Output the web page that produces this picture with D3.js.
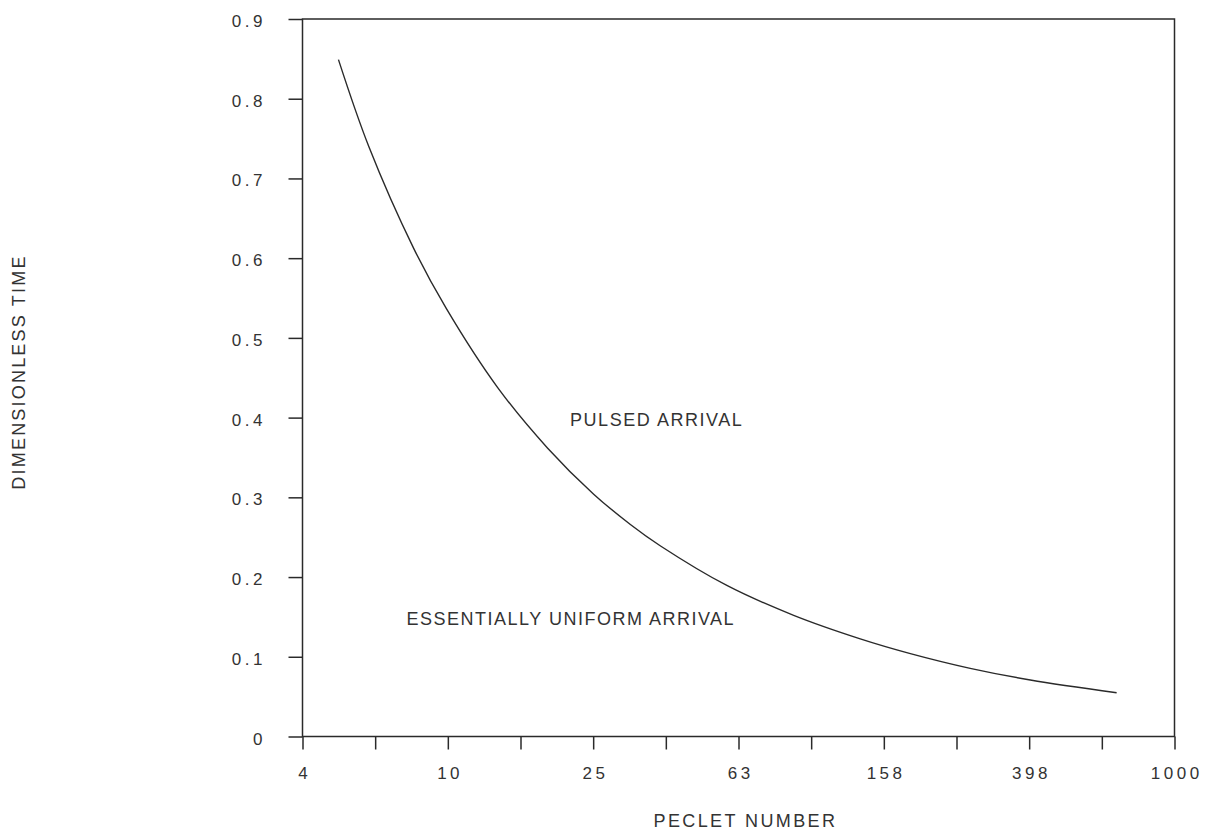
<!DOCTYPE html>
<html>
<head>
<meta charset="utf-8">
<script src="https://cdn.jsdelivr.net/npm/d3@7"></script>
<style>
  html, body { margin: 0; padding: 0; background: #ffffff; }
  svg { display: block; }
  text { font-family: "Liberation Sans", Arial, Helvetica, sans-serif; fill: #333; }
</style>
</head>
<body>
<svg id="chart" width="1219" height="832"></svg>
<script>
// Boundary curve between pulsed and essentially uniform arrival
const peclet = [5, 6.06, 8.06, 9.9, 13.7, 18.8, 25.2, 31.8, 38.5, 58.6, 89.5, 136.5, 187.5, 274, 401, 693];
const dimTime = [0.849, 0.740, 0.612, 0.537, 0.438, 0.362, 0.304, 0.266, 0.239, 0.1895, 0.152, 0.1225, 0.104, 0.0855, 0.0709, 0.0549];

// Axis ticks: x ticks every 0.2 decade from 10^0.6, labelled every 0.4 decade
const xTickExponents = [0.6, 0.8, 1.0, 1.2, 1.4, 1.6, 1.8, 2.0, 2.2, 2.4, 2.6, 2.8, 3.0];
const xTickLabels = ["4", "10", "25", "63", "158", "398", "1000"];
const yTicks = [0, 0.1, 0.2, 0.3, 0.4, 0.5, 0.6, 0.7, 0.8, 0.9];

const svg = d3.select("#chart");
const plotLeft = 302.5, plotRight = 1174.5, plotTop = 19, plotBottom = 736.5;

const x = d3.scaleLog().domain([Math.pow(10, 0.6), 1000]).range([plotLeft, plotRight]);
const y = d3.scaleLinear().domain([0, 0.9]).range([plotBottom, plotTop]);

const ink = "#2a2a2a";
const digitSpacing = 3.5;

// Y axis
const yAxis = svg.append("g")
  .attr("transform", `translate(${plotLeft},0)`)
  .call(d3.axisLeft(y).tickValues(yTicks).tickSize(14).tickSizeOuter(0)
    .tickFormat(d => d === 0 ? "0" : d3.format(".1f")(d)));
yAxis.select(".domain").remove();
yAxis.selectAll(".tick line").attr("stroke", ink).attr("stroke-width", 1.5);
yAxis.selectAll(".tick text")
  .attr("x", -40 + digitSpacing)
  .attr("dy", 7.5)
  .style("font-size", "17px")
  .style("letter-spacing", digitSpacing + "px")
  .style("fill", "#333");

// X axis
const xTickValues = xTickExponents.map(e => Math.pow(10, e));
const xAxis = svg.append("g")
  .attr("transform", `translate(0,${plotBottom})`)
  .call(d3.axisBottom(x).tickValues(xTickValues).tickSize(13).tickSizeOuter(0)
    .tickFormat((d, i) => i % 2 === 0 ? xTickLabels[i / 2] : ""));
xAxis.select(".domain").remove();
xAxis.selectAll(".tick line").attr("stroke", ink).attr("stroke-width", 1.5);
xAxis.selectAll(".tick text")
  .attr("y", 42.5)
  .attr("dy", 0)
  .attr("dx", digitSpacing / 2)
  .style("font-size", "17px")
  .style("letter-spacing", digitSpacing + "px")
  .style("fill", "#333");

// Plot frame
svg.append("rect")
  .attr("x", plotLeft).attr("y", plotTop)
  .attr("width", plotRight - plotLeft).attr("height", plotBottom - plotTop)
  .attr("fill", "none").attr("stroke", ink).attr("stroke-width", 1.5);

// Curve
const pts = peclet.map((p, i) => [p, dimTime[i]]);
svg.append("path")
  .datum(pts)
  .attr("fill", "none")
  .attr("stroke", ink)
  .attr("stroke-width", 1.4)
  .attr("d", d3.line().x(d => x(d[0])).y(d => y(d[1])).curve(d3.curveCatmullRom.alpha(0.5)));

// Region annotations
svg.append("text")
  .attr("x", 570).attr("y", 426)
  .style("font-size", "18px").style("letter-spacing", "1.55px")
  .text("PULSED ARRIVAL");
svg.append("text")
  .attr("x", 406.5).attr("y", 625)
  .style("font-size", "18px").style("letter-spacing", "1.5px")
  .text("ESSENTIALLY UNIFORM ARRIVAL");

// Axis titles
svg.append("text")
  .attr("x", 653.5).attr("y", 826.5)
  .style("font-size", "18px").style("letter-spacing", "2.4px")
  .text("PECLET NUMBER");
svg.append("text")
  .attr("transform", "translate(25,372) rotate(-90)")
  .attr("text-anchor", "middle")
  .style("font-size", "18px").style("letter-spacing", "2.2px")
  .text("DIMENSIONLESS TIME");
</script>
</body>
</html>
